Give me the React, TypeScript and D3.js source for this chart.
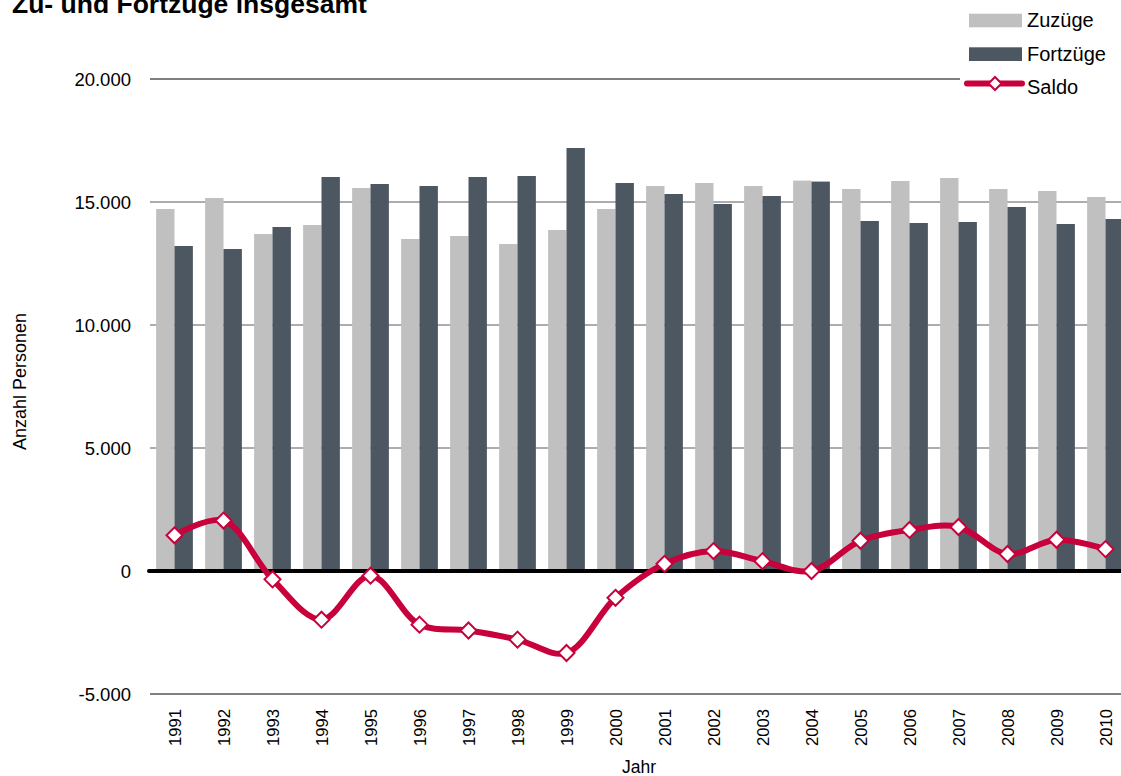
import React from "react";
import * as d3 from "d3";

const years = ["1991","1992","1993","1994","1995","1996","1997","1998","1999","2000","2001","2002","2003","2004","2005","2006","2007","2008","2009","2010"];
const zuzuege = [14715,15163,13699,14065,15569,13496,13618,13293,13862,14715,15650,15772,15650,15870,15528,15853,15975,15528,15447,15203];
const fortzuege = [13211,13089,13984,16016,15732,15650,16016,16057,17195,15772,15325,14919,15244,15830,14228,14146,14187,14797,14106,14309];
const saldo = [1450,2050,-340,-1980,-190,-2180,-2420,-2790,-3333,-1090,290,810,400,0,1230,1670,1790,690,1270,890];
const yTicks = [-5000,0,5000,10000,15000,20000];

const W = 1121, H = 776;
const RED = "#C8003C";
const LIGHT = "#C0C0C0";
const DARK = "#4D5761";

const fmt = (v: number) => {
  if (v === 0) return "0";
  const s = d3.format(",")(Math.abs(v)).replace(/,/g, ".");
  return (v < 0 ? "-" : "") + s;
};

function Diamond({ cx, cy, r }: { cx: number; cy: number; r: number }) {
  return (
    <path
      d={`M${cx},${cy - r}L${cx + r},${cy}L${cx},${cy + r}L${cx - r},${cy}Z`}
      fill="#fff"
      stroke={RED}
      strokeWidth={2}
    />
  );
}

export default function App() {
  const x = d3.scaleBand<string>().domain(years).range([150, 1130]).paddingInner(0.25).paddingOuter(0.125);
  const y = d3.scaleLinear().domain([-5000, 20000]).range([694, 79]);
  const bw = x.bandwidth() / 2;
  const cx = (yr: string) => (x(yr) as number) + x.bandwidth() / 2;

  const line = d3
    .line<number>()
    .x((_, i) => cx(years[i]))
    .y((d) => y(d))
    .curve(d3.curveCatmullRom.alpha(0.5));

  const font = "'Liberation Sans', Arial, sans-serif";

  return (
    <svg width={W} height={H} style={{ position: "absolute", left: 0, top: 0, background: "#fff" }} fontFamily={font}>
      <rect width={W} height={H} fill="#fff" />
      {/* gridlines */}
      {yTicks.filter((t) => t !== 0).map((t) => (
        <line
          key={t}
          x1={150}
          x2={W}
          y1={y(t)}
          y2={y(t)}
          stroke={t === 20000 || t === -5000 ? "#000" : "#5a5a5a"}
          strokeWidth={1}
        />
      ))}
      {/* bars */}
      {years.map((yr, i) => (
        <g key={yr}>
          <rect x={x(yr)} y={y(zuzuege[i])} width={bw} height={y(0) - y(zuzuege[i])} fill={LIGHT} />
          <rect x={(x(yr) as number) + bw} y={y(fortzuege[i])} width={bw} height={y(0) - y(fortzuege[i])} fill={DARK} />
        </g>
      ))}
      {/* zero line */}
      <line x1={149} x2={W + 5} y1={y(0)} y2={y(0)} stroke="#000" strokeWidth={4} strokeLinecap="round" />
      {/* saldo */}
      <path d={line(saldo) || ""} fill="none" stroke={RED} strokeWidth={6} strokeLinejoin="round" />
      {saldo.map((v, i) => (
        <Diamond key={i} cx={cx(years[i])} cy={y(v)} r={8} />
      ))}
      {/* y tick labels */}
      {yTicks.map((t) => (
        <text key={t} x={131} y={y(t) + 6.5} textAnchor="end" fontSize={18.5} fill="#000">
          {fmt(t)}
        </text>
      ))}
      {/* x labels */}
      {years.map((yr) => (
        <text
          key={yr}
          transform={`translate(${cx(yr) + 6.5},709) rotate(-90)`}
          textAnchor="end"
          fontSize={16.6}
          fill="#000"
        >
          {yr}
        </text>
      ))}
      <text x={639} y={773} textAnchor="middle" fontSize={17.5}>Jahr</text>
      <text transform="translate(26,381.5) rotate(-90)" textAnchor="middle" fontSize={18}>Anzahl Personen</text>
      {/* title */}
      <text x={12} y={13} fontSize={26.5} fontWeight="bold">Zu- und Fortzüge insgesamt</text>
      {/* legend */}
      <rect x={960} y={0} width={161} height={100} fill="#fff" />
      <rect x={969} y={13.7} width={53} height={13.6} fill={LIGHT} />
      <text x={1027} y={27.3} fontSize={20}>Zuzüge</text>
      <rect x={969} y={47.3} width={53} height={13.7} fill={DARK} />
      <text x={1027} y={60.8} fontSize={20}>Fortzüge</text>
      <line x1={967} x2={1022} y1={83.5} y2={83.5} stroke={RED} strokeWidth={6} strokeLinecap="round" />
      <Diamond cx={995} cy={83.5} r={6.5} />
      <text x={1027} y={94} fontSize={20}>Saldo</text>
    </svg>
  );
}
